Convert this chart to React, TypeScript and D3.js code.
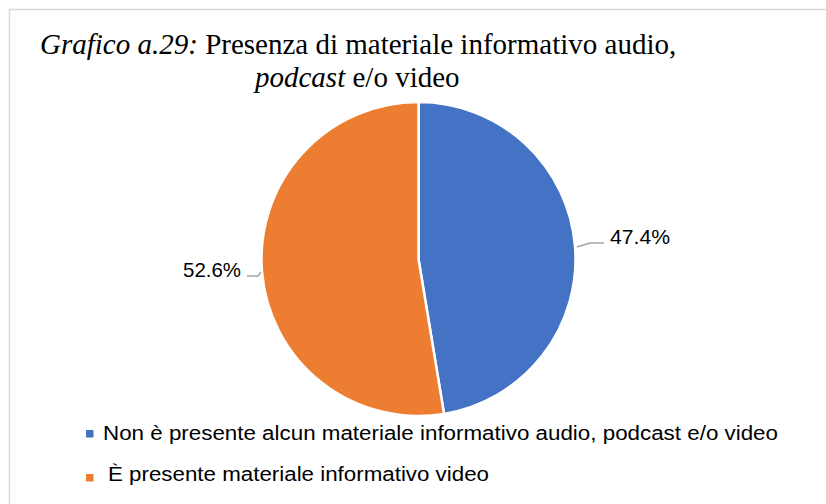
import React from "react";
import * as d3 from "d3";

const categories = [
  "Non è presente alcun materiale informativo audio, podcast e/o video",
  " È presente materiale informativo video",
];
const values = [47.4, 52.6];
const labels = ["47.4%", "52.6%"];
const colors = ["#4472C4", "#ED7D31"];

export default function App() {
  const W = 826, H = 504;
  const cx = 418.5, cy = 259, r = 157;
  const pie = d3.pie<number>().sort(null).value((d) => d)(values);
  const arc = d3.arc<d3.PieArcDatum<number>>().innerRadius(0).outerRadius(r);
  const labelPos = [
    { x: 610, y: 244, w: 60, line: [[577, 247], [590, 243], [604, 243]] },
    { x: 183, y: 277, w: 58, line: [[261, 272], [258, 276], [247, 276]] },
  ];
  const legendX = [103, 108];
  const legendW = [675, 381];
  return (
    <svg width={W} height={H} style={{ position: "absolute", left: 0, top: 0 }}>
      <rect x={0} y={0} width={W} height={H} fill="#fff" />
      <rect x={9.5} y={9.5} width={W + 20} height={H + 20} fill="#fff" stroke="#d9d9d9" strokeWidth={1.5} />
      <text x={40} y={54} fontFamily="Liberation Serif" fontSize={29} fill="#000">
        <tspan fontStyle="italic">Grafico a.29:</tspan>
        <tspan> Presenza di materiale informativo audio,</tspan>
      </text>
      <text x={255} y={87} fontFamily="Liberation Serif" fontSize={29} fill="#000">
        <tspan fontStyle="italic">podcast</tspan>
        <tspan> e/o video</tspan>
      </text>
      <g transform={`translate(${cx},${cy})`}>
        {pie.map((p, i) => (
          <path key={i} d={arc(p) || ""} fill={colors[i]} stroke="#fff" strokeWidth={2.5} strokeLinejoin="round" />
        ))}
      </g>
      {labelPos.map((l, i) => (
        <g key={i}>
          <polyline points={l.line.map((p) => p.join(",")).join(" ")} fill="none" stroke="#a6a6a6" strokeWidth={1.5} />
          <text x={l.x} y={l.y} fontFamily="Liberation Sans" fontSize={21} fill="#000" textLength={l.w} lengthAdjust="spacingAndGlyphs">
            {labels[i]}
          </text>
        </g>
      ))}
      {categories.map((c, i) => (
        <g key={i}>
          <rect x={86} y={430 + i * 44} width={7.5} height={7.5} fill={colors[i]} />
          <text x={legendX[i]} y={440 + i * 41} fontFamily="Liberation Sans" fontSize={20} fill="#000" textLength={legendW[i]} lengthAdjust="spacingAndGlyphs">
            {c.trim()}
          </text>
        </g>
      ))}
    </svg>
  );
}
